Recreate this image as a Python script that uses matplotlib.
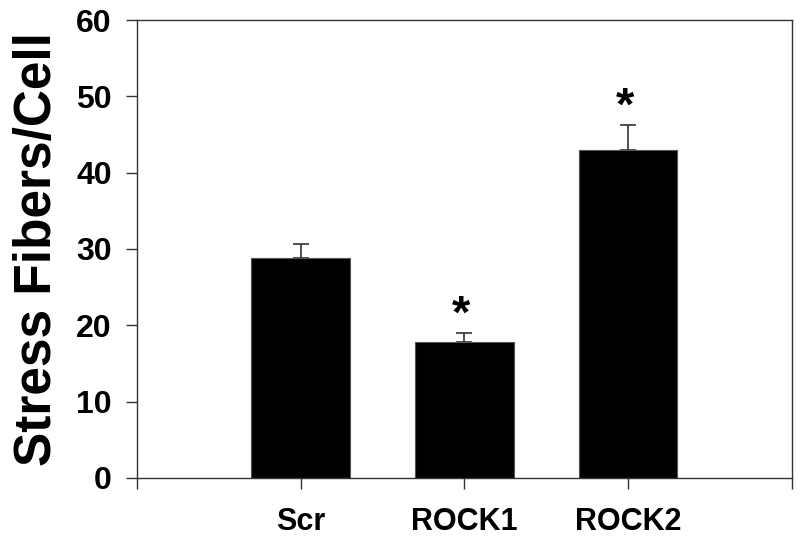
import matplotlib.pyplot as plt
import numpy as np

plt.rcParams['font.family'] = ['Liberation Sans', 'DejaVu Sans']

groups = ['Scr', 'ROCK1', 'ROCK2']
fibers = [28.8, 17.8, 43.0]
sem = [1.8, 1.2, 3.2]
signif = ['', '*', '*']


def draw():
    fig = plt.figure(figsize=(8, 5.41), dpi=100)
    ax = fig.add_axes([0.171, 0.1165, 0.819, 0.8465])

    x = np.arange(1, len(groups) + 1)
    ax.bar(x, fibers, width=0.6, color='black', edgecolor='#555555', linewidth=0.8, zorder=2)
    ax.errorbar(x, fibers, yerr=[np.zeros(len(sem)), sem], fmt='none',
                ecolor='#333333', elinewidth=1.2, capsize=6, capthick=1.2, zorder=1)

    for xi, v, e, s in zip(x, fibers, sem, signif):
        if s:
            # asterisk glyph sits high in its box
            ax.text(xi - 0.02, v + e - 0.6, s, ha='center', va='bottom',
                    fontsize=34, fontweight='bold')

    ax.set_xlim(0, 4)
    ax.set_ylim(0, 60)
    ax.set_xticks([0, 1, 2, 3, 4])
    ax.set_xticklabels([''] + groups + [''], fontsize=22, fontweight='bold')
    ax.set_yticks(range(0, 61, 10))
    ax.set_yticklabels([str(t) for t in range(0, 61, 10)], fontsize=23, fontweight='bold')
    ax.tick_params(axis='x', direction='out', length=8, width=1, pad=13, color='#333333')
    ax.tick_params(axis='y', direction='out', length=8, width=1, pad=10, color='#333333')
    for sp in ax.spines.values():
        sp.set_linewidth(1.0)
        sp.set_color('#333333')

    ax.set_ylabel('Stress Fibers/Cell', fontsize=37, fontweight='bold', labelpad=10)

    fig.savefig('out.png', dpi=100)


if __name__ == "__main__":
    draw()
